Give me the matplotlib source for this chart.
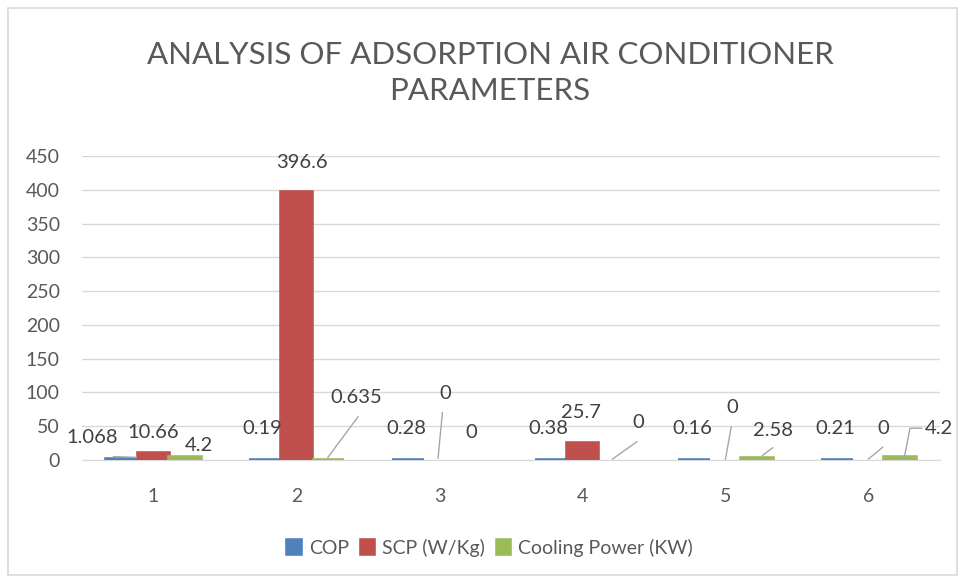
import numpy as np
import matplotlib.pyplot as plt
from matplotlib.patches import Rectangle

categories = ["1", "2", "3", "4", "5", "6"]
cop = [1.068, 0.19, 0.28, 0.38, 0.16, 0.21]
scp = [10.66, 396.6, 0, 25.7, 0, 0]
cooling = [4.2, 0.635, 0, 0, 2.58, 4.2]

series_names = ["COP", "SCP (W/Kg)", "Cooling Power (KW)"]
colors = ["#4F81BD", "#C0504D", "#9BBB59"]

# label text, position (x, y) and optional leader line points
labels = [
    ("1.068", (0.57, 33), [(0.72, 5), (0.88, 4)]),
    ("10.66", (1.00, 40), None),
    ("4.2", (1.32, 22), None),
    ("0.19", (1.76, 47), None),
    ("396.6", (2.04, 441), None),
    ("0.635", (2.42, 93), [(2.22, 4), (2.43, 64)]),
    ("0.28", (2.77, 47), None),
    ("0", (3.04, 99), [(2.99, 3), (3.02, 70)]),
    ("0", (3.22, 41), None),
    ("0.38", (3.76, 47), None),
    ("25.7", (3.99, 70), None),
    ("0", (4.39, 55), [(4.21, 1.5), (4.38, 27)]),
    ("0.16", (4.77, 47), None),
    ("0", (5.05, 78), [(5.0, 1.5), (5.04, 49)]),
    ("2.58", (5.33, 44), [(5.26, 7), (5.33, 18)]),
    ("0.21", (5.77, 47), None),
    ("0", (6.10, 47), [(6.0, 1.5), (6.1, 19)]),
    ("4.2", (6.49, 47), [(6.25, 3), (6.29, 47), (6.37, 47)]),
]

plt.rcParams['font.family'] = ['Lato', 'DejaVu Sans']
text_col = "#595959"

fig = plt.figure(figsize=(9.61, 5.78), dpi=100)
fig.patches.append(Rectangle((0.008, 0.005), 0.988, 0.982, transform=fig.transFigure,
                             fill=False, edgecolor="#d9d9d9", linewidth=1.2))
ax = fig.add_axes([82 / 961, 1 - 460 / 578, 858 / 961, 304 / 578])

x = np.arange(1, len(categories) + 1)
w = 0.223
for i, (vals, name, c) in enumerate(zip([cop, scp, cooling], series_names, colors)):
    # tiny non-zero values still show as a thin bar, like in Excel
    lw = [2.6 if v > 0 else 0 for v in vals]
    ax.bar(x + (i - 1) * w, vals, width=w, color=c, edgecolor=c, linewidth=lw,
           label=name, zorder=3)

for txt, (tx, ty), line in labels:
    ax.text(tx, ty, txt, ha="center", va="center", fontsize=14.5, color="#404040", zorder=5)
    if line:
        xs, ys = zip(*line)
        ax.plot(xs, ys, color="#a6a6a6", linewidth=1, zorder=4)

ax.set_xlim(0.5, 6.5)
ax.set_ylim(0, 450)
ax.set_yticks(np.arange(0, 451, 50))
ax.set_xticks(x)
ax.set_xticklabels(categories)
ax.grid(axis="y", color="#d9d9d9", linewidth=1, zorder=0)
for s in ["top", "right", "left"]:
    ax.spines[s].set_visible(False)
ax.spines["bottom"].set_color("#d9d9d9")
ax.tick_params(axis="both", length=0, labelsize=14, colors=text_col)
ax.tick_params(axis="x", pad=20)
ax.tick_params(axis="y", pad=16)

fig.text(0.51, 1 - 73 / 578, "ANALYSIS OF ADSORPTION AIR CONDITIONER\nPARAMETERS",
         ha="center", va="center", fontsize=22.5, color=text_col, linespacing=1.35)

fig.legend(loc="center", bbox_to_anchor=(0.51, 1 - 548 / 578), ncol=3, frameon=False,
           fontsize=14, handlelength=0.7, handleheight=0.7, handletextpad=0.4,
           columnspacing=0.6, labelcolor=text_col)

fig.savefig("out.png", dpi=100)
